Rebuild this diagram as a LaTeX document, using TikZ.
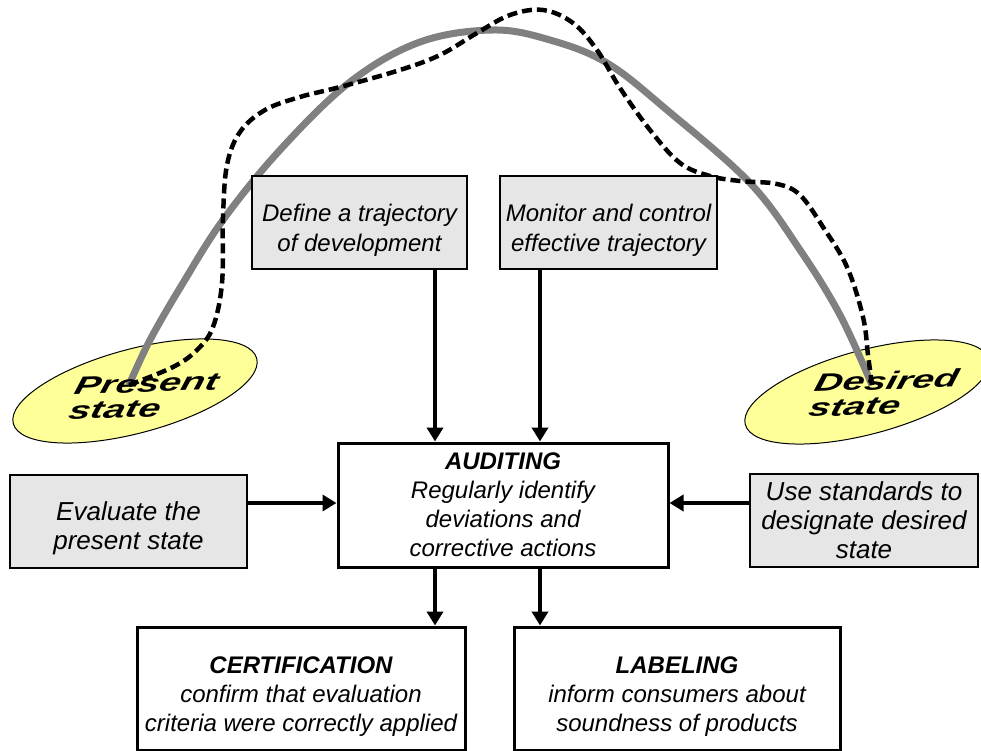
\documentclass[tikz,border=0pt]{standalone}
\usepackage{fontspec}
\setmainfont{Liberation Sans}
\usetikzlibrary{arrows.meta,shapes.geometric}

\definecolor{boxgrey}{HTML}{E6E6E6}
\definecolor{ovalyellow}{HTML}{FFFF99}
\definecolor{trackgrey}{HTML}{808080}

% pushes the first line of a box down a little
\newcommand\topgap{\rule{0pt}{33pt}}

\tikzset{
  greybox/.style={draw, line width=2.3pt, fill=boxgrey, align=center, inner sep=0pt,
    minimum height=93pt, font=\itshape\fontsize{24}{30}\selectfont},
  whitebox/.style={draw, line width=3pt, fill=white, align=center, inner sep=0pt,
    font=\itshape\fontsize{24}{29}\selectfont},
  sidefont/.style={font=\itshape\fontsize{26}{29}\selectfont},
  stateoval/.style={ellipse, draw, line width=1pt, fill=ovalyellow, inner sep=0pt,
    minimum width=252pt, minimum height=84pt, rotate=15},
  statelabel/.style={align=left, inner sep=0pt,
    font=\bfseries\itshape\fontsize{25}{25}\selectfont, xscale=1.55, xslant=0.2, rotate=3},
  flow/.style={line width=3.5pt, -{Triangle[length=14pt,width=16pt]}},
}

\begin{document}
\begin{tikzpicture}[x=1pt, y=-1pt]
  \useasboundingbox (0,0) rectangle (981,751);
  % the two states
  \node[stateoval] (present) at (135,391) {};
  \node[stateoval] (desired) at (867,392) {};
  \coordinate (start) at ([shift={(-6,-6)}]present.center);
  \coordinate (goal)  at ([shift={(5,-7)}]desired.center);
  % planned trajectory
  \draw[trackgrey, line width=7pt] plot[smooth, tension=0.6] coordinates {
    (start) (150,340) (183,283) (223,220) (280,150) (350,82) (420,42) (493,30)
    (550,40) (607,63) (667,110) (750,183) (800,250) (840,315) (goal)};
  % effective trajectory
  \draw[line width=4.5pt, dash pattern=on 10pt off 5pt] plot[smooth, tension=0.6] coordinates {
    (start) (173,367) (197,350) (213,327) (222,283) (223,217) (227,165) (240,132)
    (265,110) (300,97) (340,87) (400,70) (440,55) (477,33) (510,15) (543,10)
    (573,23) (597,50) (620,88) (650,130) (680,163) (710,176) (740,181) (777,184)
    (800,195) (823,227) (847,267) (863,317) (868,355) (goal)};
  \node[statelabel] (presentlabel) at (144,396) {Present\\state};
  \node[statelabel] (desiredlabel) at (884,393) {Desired\\state};

  % boxes
  \node[greybox, minimum width=215pt] (define) at (359.5,222.5)
    {\topgap Define a trajectory\\of development};
  \node[greybox, minimum width=217pt] (monitor) at (608.5,222.5)
    {\topgap Monitor and control\\effective trajectory};
  \node[whitebox, minimum width=330pt, minimum height=124pt] (audit) at (503,505)
    {\textbf{AUDITING}\\Regularly identify\\deviations and\\corrective actions};
  \node[greybox, sidefont, minimum width=237pt] (evaluate) at (128.5,521.5)
    {\topgap Evaluate the\\present state};
  \node[greybox, sidefont, minimum width=228pt] (standards) at (864,520.5)
    {Use standards to\\designate desired\\state};
  \node[whitebox, minimum width=328pt, minimum height=123pt] (certif) at (301,688.5)
    {\topgap\textbf{CERTIFICATION}\\confirm that evaluation\\criteria were correctly applied};
  \node[whitebox, minimum width=326pt, minimum height=123pt] (labeling) at (677,688.5)
    {\topgap\textbf{LABELING}\\inform consumers about\\soundness of products};

  % arrows
  \coordinate (leftdrop) at (435,0);
  \coordinate (rightdrop) at (540,0);
  \coordinate (sideline) at (0,503);
  \draw[flow] (define.south -| leftdrop) -- (audit.north -| leftdrop);
  \draw[flow] (monitor.south -| rightdrop) -- (audit.north -| rightdrop);
  \draw[flow] (evaluate.east |- sideline) -- (audit.west |- sideline);
  \draw[flow] (standards.west |- sideline) -- (audit.east |- sideline);
  \draw[flow] (audit.south -| leftdrop) -- (certif.north -| leftdrop);
  \draw[flow] (audit.south -| rightdrop) -- (labeling.north -| rightdrop);
\end{tikzpicture}
\end{document}
